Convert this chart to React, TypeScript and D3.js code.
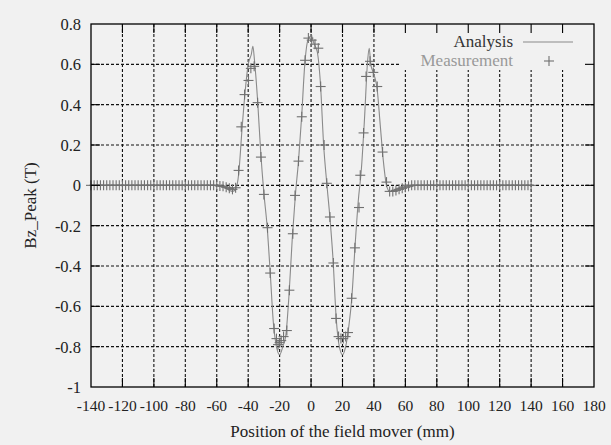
import React, { useRef, useEffect } from "react";
import * as d3 from "d3";

// axis ticks
const xTicks = [-140, -120, -100, -80, -60, -40, -20, 0, 20, 40, 60, 80, 100, 120, 140, 160, 180];
const yTicks = [-1, -0.8, -0.6, -0.4, -0.2, 0, 0.2, 0.4, 0.6, 0.8];

// analysis curve (mm, T)
const analysisX = [
  -140, -60, -55, -52, -50, -48, -46, -44, -42, -40, -38, -37, -36, -34, -32, -30, -28, -26, -24, -22,
  -20, -18, -16, -14, -12, -10, -8, -6, -4, -2, 0, 2, 4, 6, 8, 10, 12, 14, 16, 18, 20, 22, 24, 26, 28,
  30, 32, 34, 36, 37, 38, 40, 42, 44, 46, 48, 50, 52, 55, 60, 140,
];
const analysisY = [
  0, 0, -0.01, -0.025, -0.03, -0.02, 0.06, 0.27, 0.46, 0.6, 0.65, 0.69, 0.62, 0.42, 0.16, -0.04, -0.2,
  -0.43, -0.68, -0.8, -0.84, -0.8, -0.74, -0.54, -0.27, -0.05, 0.12, 0.34, 0.6, 0.72, 0.74, 0.7, 0.66,
  0.5, 0.2, 0.01, -0.16, -0.37, -0.66, -0.8, -0.84, -0.8, -0.7, -0.55, -0.3, -0.08, 0.08, 0.33, 0.62,
  0.68, 0.6, 0.55, 0.48, 0.3, 0.12, 0.0, -0.03, -0.025, -0.015, 0, 0,
];

// measured points (mm, T)
const measX = [
  -140, -138, -136, -134, -132, -130, -128, -126, -124, -122, -120, -118, -116, -114, -112, -110, -108,
  -106, -104, -102, -100, -98, -96, -94, -92, -90, -88, -86, -84, -82, -80, -78, -76, -74, -72, -70,
  -68, -66, -64, -62, -60, -58, -56, -54, -52, -50, -48,
  -46.1, -44.4, -42.3, -39.8, -38.3, -36.2, -34, -31.9, -30, -27.7, -26, -23.5, -22, -21, -20, -19,
  -17.5, -15.4, -13.8, -11.6, -10.2, -8, -5.9, -3.8, -1.7, 0.4, 2.5, 4.6, 6.1, 8.3, 10, 12, 14.2, 15.9,
  17.5, 19, 20.5, 22, 23.5, 25.8, 27.9, 30.5, 31.3, 33.4, 35, 37.5, 39.6, 42.1, 45.5, 48,
  50, 52, 54, 56, 58, 60, 62, 64, 66, 68, 70, 72, 74, 76, 78, 80, 82, 84, 86, 88, 90, 92, 94, 96, 98,
  100, 102, 104, 106, 108, 110, 112, 114, 116, 118, 120, 122, 124, 126, 128, 130, 132, 134, 136, 138, 140,
];
const measY = [
  0, 0, 0, 0, 0, 0, 0, 0, 0, 0, 0, 0, 0, 0, 0, 0, 0, 0, 0, 0, 0, 0, 0, 0, 0, 0, 0, 0, 0, 0, 0, 0, 0, 0,
  0, 0, 0, 0, 0, 0, 0, -0.003, -0.005, -0.01, -0.015, -0.02, -0.012,
  0.074, 0.29, 0.45, 0.52, 0.58, 0.59, 0.41, 0.14, -0.045, -0.21, -0.435, -0.71, -0.76, -0.79, -0.78,
  -0.77, -0.75, -0.72, -0.52, -0.24, -0.05, 0.12, 0.34, 0.62, 0.73, 0.72, 0.7, 0.68, 0.49, 0.2, 0.01,
  -0.157, -0.385, -0.66, -0.75, -0.76, -0.76, -0.75, -0.73, -0.56, -0.31, -0.11, 0.05, 0.26, 0.54, 0.615,
  0.56, 0.49, 0.165, 0.016,
  -0.03, -0.03, -0.025, -0.02, -0.015, -0.01, -0.005, 0, 0, 0, 0, 0, 0, 0, 0, 0, 0, 0, 0, 0, 0, 0, 0,
  0, 0, 0, 0, 0, 0, 0, 0, 0, 0, 0, 0, 0, 0, 0, 0, 0, 0, 0, 0, 0, 0, 0, 0, 0,
];

const BG = "#f1f1f1";
const FONT = "'Liberation Serif', 'DejaVu Serif', serif";

const App = () => {
  const svgRef = useRef<SVGSVGElement>(null);

  useEffect(() => {
    const svg = d3.select(svgRef.current);
    svg.selectAll("*").remove();

    const left = 91, right = 594, top = 24, bottom = 387;

    const x = d3.scaleLinear().domain([-140, 180]).range([left, right]);
    const y = d3.scaleLinear().domain([-1, 0.8]).range([bottom, top]);

    svg.append("rect").attr("width", 611).attr("height", 445).attr("fill", BG);

    // grid
    const grid = svg.append("g").attr("stroke", "#111").attr("stroke-width", 1.1).attr("stroke-dasharray", "3,2");
    grid
      .selectAll(".gx")
      .data(xTicks.slice(1, -1))
      .enter()
      .append("line")
      .attr("x1", (d) => x(d))
      .attr("x2", (d) => x(d))
      .attr("y1", top)
      .attr("y2", bottom);
    grid
      .selectAll(".gy")
      .data(yTicks.slice(1, -1))
      .enter()
      .append("line")
      .attr("x1", left)
      .attr("x2", right)
      .attr("y1", (d) => y(d))
      .attr("y2", (d) => y(d));

    // opaque key box
    svg.append("rect").attr("x", 400).attr("y", top).attr("width", right - 400).attr("height", 46).attr("fill", BG);

    // analysis line
    const pts = analysisX.map((v, i) => [v, analysisY[i]] as [number, number]);
    const line = d3
      .line<[number, number]>()
      .x((d) => x(d[0]))
      .y((d) => y(d[1]))
      .curve(d3.curveMonotoneX);
    svg
      .append("path")
      .datum(pts)
      .attr("d", line)
      .attr("fill", "none")
      .attr("stroke", "#8a8a8a")
      .attr("stroke-width", 1.1);

    // measurement markers
    const r = 5;
    const marks = svg.append("g").attr("stroke", "#707070").attr("stroke-width", 1.1);
    measX.forEach((v, i) => {
      const cx = x(v), cy = y(measY[i]);
      marks.append("line").attr("x1", cx - r).attr("x2", cx + r).attr("y1", cy).attr("y2", cy);
      marks.append("line").attr("x1", cx).attr("x2", cx).attr("y1", cy - r).attr("y2", cy + r);
    });

    // border
    svg
      .append("rect")
      .attr("x", left)
      .attr("y", top)
      .attr("width", right - left)
      .attr("height", bottom - top)
      .attr("fill", "none")
      .attr("stroke", "#000")
      .attr("stroke-width", 1.3);

    // mirrored inward ticks
    const tl = 9;
    const ticks = svg.append("g").attr("stroke", "#000").attr("stroke-width", 1.1);
    xTicks.slice(1, -1).forEach((d) => {
      ticks.append("line").attr("x1", x(d)).attr("x2", x(d)).attr("y1", bottom).attr("y2", bottom - tl);
      ticks.append("line").attr("x1", x(d)).attr("x2", x(d)).attr("y1", top).attr("y2", top + tl);
    });
    yTicks.slice(1, -1).forEach((d) => {
      ticks.append("line").attr("x1", left).attr("x2", left + tl).attr("y1", y(d)).attr("y2", y(d));
      ticks.append("line").attr("x1", right).attr("x2", right - tl).attr("y1", y(d)).attr("y2", y(d));
    });

    // tick labels
    svg
      .append("g")
      .selectAll("text")
      .data(xTicks)
      .enter()
      .append("text")
      .attr("x", (d) => x(d))
      .attr("y", bottom + 24)
      .attr("text-anchor", "middle")
      .style("font-family", FONT)
      .style("font-size", "15.5px")
      .attr("fill", "#222")
      .text((d) => String(d));
    svg
      .append("g")
      .selectAll("text")
      .data(yTicks)
      .enter()
      .append("text")
      .attr("x", left - 10)
      .attr("y", (d) => y(d) + 6)
      .attr("text-anchor", "end")
      .style("font-family", FONT)
      .style("font-size", "16.5px")
      .attr("fill", "#222")
      .text((d) => String(d));

    // axis titles
    svg
      .append("text")
      .attr("x", (left + right) / 2)
      .attr("y", 437)
      .attr("text-anchor", "middle")
      .style("font-family", FONT)
      .style("font-size", "17px")
      .attr("fill", "#222")
      .text("Position of the field mover (mm)");
    svg
      .append("text")
      .attr("transform", `translate(36, ${(top + bottom) / 2}) rotate(-90)`)
      .attr("text-anchor", "middle")
      .style("font-family", FONT)
      .style("font-size", "17px")
      .attr("fill", "#222")
      .text("Bz_Peak (T)");

    // key
    svg
      .append("text")
      .attr("x", 513)
      .attr("y", 47)
      .attr("text-anchor", "end")
      .style("font-family", FONT)
      .style("font-size", "17px")
      .attr("fill", "#333")
      .text("Analysis");
    svg.append("line").attr("x1", 523).attr("x2", 573).attr("y1", 42).attr("y2", 42).attr("stroke", "#8a8a8a").attr("stroke-width", 1.1);
    svg
      .append("text")
      .attr("x", 513)
      .attr("y", 66)
      .attr("text-anchor", "end")
      .style("font-family", FONT)
      .style("font-size", "17px")
      .attr("fill", "#999")
      .text("Measurement");
    const kg = svg.append("g").attr("stroke", "#707070").attr("stroke-width", 1.1);
    kg.append("line").attr("x1", 549 - r).attr("x2", 549 + r).attr("y1", 61).attr("y2", 61);
    kg.append("line").attr("x1", 549).attr("x2", 549).attr("y1", 61 - r).attr("y2", 61 + r);
  }, []);

  return (
    <svg
      ref={svgRef}
      width={611}
      height={445}
      style={{ position: "absolute", left: 0, top: 0 }}
    ></svg>
  );
};

export default App;
